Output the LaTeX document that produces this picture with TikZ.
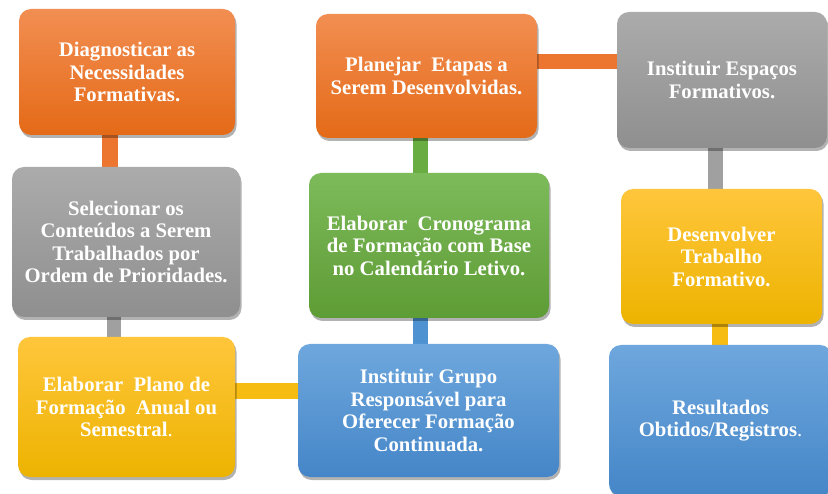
\documentclass[tikz,border=0pt]{standalone}
\usepackage{fontspec}
\setmainfont{Liberation Serif}
\usetikzlibrary{shadows,backgrounds}
\definecolor{orTop}{HTML}{F28E52}
\definecolor{orBot}{HTML}{E46A17}
\definecolor{orBar}{HTML}{EC7630}
\definecolor{grTop}{HTML}{ABABAB}
\definecolor{grBot}{HTML}{8F8F8F}
\definecolor{grBar}{HTML}{A0A0A0}
\definecolor{gnTop}{HTML}{7DBA5A}
\definecolor{gnBot}{HTML}{5E9C36}
\definecolor{gnBar}{HTML}{69AC41}
\definecolor{blTop}{HTML}{6EA7DD}
\definecolor{blBot}{HTML}{4586C8}
\definecolor{blBar}{HTML}{4E92D2}
\definecolor{ylTop}{HTML}{FFC63C}
\definecolor{ylBot}{HTML}{EDB300}
\definecolor{ylBar}{HTML}{F7BC12}
\begin{document}
\begin{tikzpicture}[x=1pt,y=-1pt,
  box/.style={rounded corners=12pt, draw=none, text=white,
    font=\fontsize{20.7}{22.5}\selectfont\bfseries, align=center, inner sep=0pt,
    drop shadow={shadow xshift=1.5pt,shadow yshift=-3pt,opacity=0.3,fill=black}},
  orangebox/.style={box, top color=orTop, bottom color=orBot},
  graybox/.style={box, top color=grTop, bottom color=grBot},
  greenbox/.style={box, top color=gnTop, bottom color=gnBot},
  bluebox/.style={box, top color=blTop, bottom color=blBot},
  yellowbox/.style={box, top color=ylTop, bottom color=ylBot},
  bar/.style={draw=#1, line width=15pt},
]
\useasboundingbox (0,0) rectangle (828,494);
\begin{scope}[on background layer]
  \fill[white] (0,0) rectangle (828,494);
\end{scope}
\clip (0,0) rectangle (828,494);

\node[orangebox, minimum width=216pt, minimum height=126pt] (d) at (127,72)
  {Diagnosticar as\\Necessidades\\Formativas.};
\node[graybox, minimum width=228pt, minimum height=150pt] (s) at (126,242)
  {Selecionar os\\Conteúdos a Serem\\Trabalhados por\\Ordem de Prioridades.};
\node[yellowbox, minimum width=217pt, minimum height=140pt] (p) at (126.5,407)
  {Elaborar\ \ Plano de\\Formação\ \ Anual ou\\Semestral{\mdseries.}};
\node[bluebox, minimum width=261pt, minimum height=133pt] (g) at (428.5,410.5)
  {Instituir Grupo\\Responsável para\\Oferecer Formação\\Continuada.};
\node[greenbox, minimum width=240pt, minimum height=145pt] (c) at (429,245.5)
  {Elaborar\ \ Cronograma\\de Formação com Base\\no Calendário Letivo.};
\node[orangebox, minimum width=221pt, minimum height=124pt] (pl) at (426.5,76)
  {Planejar\ \ Etapas a\\Serem Desenvolvidas.};
\node[graybox, minimum width=210pt, minimum height=136pt] (e) at (722,80)
  {Instituir Espaços\\Formativos.};
\node[yellowbox, minimum width=201pt, minimum height=135pt] (dv) at (721.5,256.5)
  {Desenvolver\\Trabalho\\Formativo.};
\node[bluebox, minimum width=223pt, minimum height=151pt] (r) at (720.5,420.5)
  {Resultados\\Obtidos/Registros{\mdseries.}};

\coordinate (xa) at (110,0);
\coordinate (xb) at (114,0);
\coordinate (xc) at (420,0);
\coordinate (xd) at (715,0);
\coordinate (xe) at (720,0);
\coordinate (ya) at (0,391);
\coordinate (yb) at (0,62);

\begin{scope}[on background layer]
  \draw[bar=orBar, line width=16pt] (d.south -| xa) -- (s.north -| xa);
  \draw[bar=grBar, line width=14pt] (s.south -| xb) -- (p.north -| xb);
  \draw[bar=ylBar, line width=16pt] (p.east |- ya) -- (g.west |- ya);
  \draw[bar=blBar] (g.north -| xc) -- (c.south -| xc);
  \draw[bar=gnBar] (c.north -| xc) -- (pl.south -| xc);
  \draw[bar=orBar] (pl.east |- yb) -- (e.west |- yb);
  \draw[bar=grBar] (e.south -| xd) -- (dv.north -| xd);
  \draw[bar=ylBar, line width=16pt] (dv.south -| xe) -- (r.north -| xe);
\end{scope}
\end{tikzpicture}
\end{document}
